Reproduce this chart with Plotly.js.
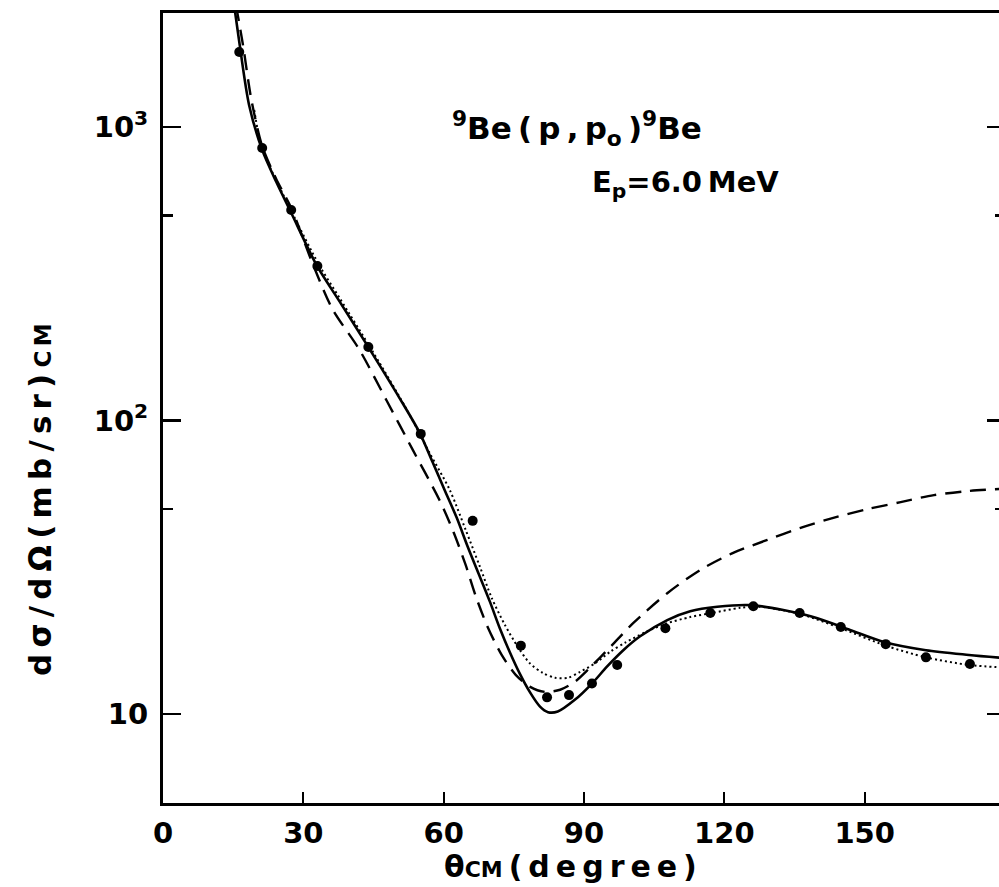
<!DOCTYPE html>
<html>
<head>
<meta charset="utf-8">
<script src="https://cdn.plot.ly/plotly-3.0.1.min.js"></script>
<style>
html, body { margin: 0; padding: 0; background: #fff; overflow: hidden; }
#chart { width: 1006px; height: 887px; }
</style>
</head>
<body>
<div id="chart"></div>
<script>
// Experimental data points: theta_cm (deg), dsigma/dOmega (mb/sr)
const dataTheta = [16.3, 21.2, 27.4, 33.0, 43.9, 55.1, 66.2, 76.5, 82.1, 86.8, 91.7, 97.1, 107.4, 117.0, 126.2, 136.1, 144.9, 154.5, 163.1, 172.5];
const dataSigma = [1800, 848, 521, 336, 178, 90, 45.5, 17.1, 11.4, 11.6, 12.7, 14.7, 19.6, 22.1, 23.3, 22.1, 19.8, 17.3, 15.6, 14.8];

// Solid curve
const solidTheta = [15.2, 16.3, 18.4, 21.2, 24.2, 27.4, 32.8, 37.7, 43.5, 50.6, 54.9, 57.6, 60.2, 62.8, 65.1, 67.5, 69.9, 72.0, 74.1, 76.3, 78.4, 80.6, 82.3, 84.4, 88.1, 91.7, 94.9, 98.4, 102.0, 107.8, 112.7, 118.5, 125.6, 132.6, 139.9, 147.0, 154.1, 163.1, 172.3, 180];
const solidSigma = [2600, 1950, 1188, 835, 650, 510, 339, 255, 182, 119, 90.6, 72.3, 58.0, 46.6, 37.3, 30.0, 24.1, 19.6, 16.3, 13.7, 11.9, 10.6, 10.15, 10.2, 11.2, 12.7, 14.5, 16.5, 18.4, 20.9, 22.4, 23.2, 23.5, 22.6, 21.2, 19.3, 17.6, 16.5, 15.9, 15.5];

// Long-dashed curve
const dashTheta = [15.6, 17.1, 18.9, 21.2, 24.2, 27.4, 31.9, 36.2, 42.0, 47.8, 53.4, 59.1, 62.1, 64.7, 66.9, 69.4, 72.4, 75.4, 78.4, 81.6, 84.9, 88.1, 91.3, 95.6, 100.5, 107.8, 114.9, 121.9, 129.2, 136.3, 143.3, 150.6, 157.7, 164.8, 172.1, 180];
const dashSigma = [2600, 1900, 1236, 860, 665, 530, 345, 240, 174, 117, 79.4, 53.6, 41.7, 32.2, 25.1, 19.8, 15.9, 13.6, 12.4, 11.9, 12.1, 12.9, 14.4, 16.9, 20.4, 25.8, 31.0, 35.4, 39.2, 43.1, 46.6, 49.9, 52.7, 55.7, 57.5, 58.6];

// Dotted curve
const dotTheta = [19.5, 21.2, 27.4, 33.4, 37.7, 44.8, 52.1, 57.0, 61.3, 64.7, 67.7, 70.3, 73.1, 75.9, 78.4, 81.2, 83.8, 86.6, 89.1, 92.4, 95.6, 98.8, 103.1, 107.4, 112.7, 117.4, 123.4, 127.7, 136.3, 144.9, 154.5, 163.1, 172.3, 180];
const dotSigma = [1142, 845, 518, 338, 262, 172, 109, 77.5, 58.0, 42.4, 31.9, 24.8, 20.1, 16.9, 14.9, 13.8, 13.3, 13.3, 13.9, 14.9, 16.3, 17.5, 19.0, 20.3, 21.4, 22.1, 23.0, 23.2, 21.9, 19.6, 17.1, 15.6, 14.7, 14.4];

const xTickVals = [0, 30, 60, 90, 120, 150];
const xTickText = ['0', '30', '60', '90', '120', '150'];
const yTickVals = [10, 100, 1000];
const yTickText = ['10', '10<sup>2</sup>', '10<sup>3</sup>'];
const yMinorVals = [50, 500];

const FONT = '"DejaVu Sans", Lato, sans-serif';
const SP = '\u2009';

const traces = [
  { x: solidTheta, y: solidSigma, mode: 'lines', line: { color: '#000', width: 2.6, shape: 'spline', smoothing: 0.8 }, name: 'solid', hoverinfo: 'skip' },
  { x: dashTheta, y: dashSigma, mode: 'lines', line: { color: '#000', width: 2.4, dash: '16px,9px', shape: 'spline', smoothing: 0.8 }, name: 'dashed', hoverinfo: 'skip' },
  { x: dotTheta, y: dotSigma, mode: 'lines', line: { color: '#000', width: 2, dash: '2px,3px', shape: 'spline', smoothing: 0.8 }, name: 'dotted', hoverinfo: 'skip' },
  { x: dataTheta, y: dataSigma, mode: 'markers', marker: { color: '#000', size: 10 }, name: 'data' }
];

const yTitle = ['d', 'σ', '/', 'd', 'Ω', '(', 'm', 'b', '/', 's', 'r', ')'].join(SP) + SP + '<span style="font-size:23px">C' + SP + 'M</span>';
const xTitle = 'θ<span style="font-size:22px">CM</span>' + SP + ['(', 'd', 'e', 'g', 'r', 'e', 'e', ')'].join(SP);

// pixel helpers for annotation placement (plot area: x 163..1005, y 13..803)
const px = v => (v - 163) / 842;
const py = v => (803 - v) / 790;

const layout = {
  width: 1006, height: 887,
  margin: { l: 163, r: 1, t: 13, b: 84 },
  paper_bgcolor: '#fff', plot_bgcolor: '#fff',
  showlegend: false,
  font: { family: FONT, color: '#000', size: 30, weight: 700 },
  xaxis: {
    range: [0, 180],
    tickmode: 'array', tickvals: xTickVals, ticktext: xTickText,
    ticks: 'inside', ticklen: 11, tickwidth: 2, tickcolor: '#000',
    showline: true, linewidth: 3, linecolor: '#000', mirror: true,
    showgrid: false, zeroline: false,
    tickfont: { family: FONT, size: 29, weight: 700 },
    ticklabelstandoff: 2,
    automargin: false
  },
  yaxis: {
    type: 'log',
    range: [0.697, 3.388],
    tickmode: 'array', tickvals: yTickVals, ticktext: yTickText,
    ticks: 'inside', ticklen: 18, tickwidth: 2.5, tickcolor: '#000',
    minor: { tickvals: yMinorVals, ticks: 'inside', ticklen: 10, tickwidth: 2.5, tickcolor: '#000', showgrid: false },
    showline: true, linewidth: 3, linecolor: '#000', mirror: 'ticks',
    showgrid: false, zeroline: false,
    tickfont: { family: FONT, size: 29, weight: 700 },
    ticklabelstandoff: 6,
    automargin: false
  },
  annotations: [
    { xref: 'paper', yref: 'paper', x: px(570), y: py(866), xanchor: 'center', yanchor: 'middle', showarrow: false,
      text: xTitle, font: { family: FONT, size: 30, weight: 700 } },
    { xref: 'paper', yref: 'paper', x: px(40), y: py(500), xanchor: 'center', yanchor: 'middle', showarrow: false, textangle: -90,
      text: yTitle, font: { family: FONT, size: 31, weight: 700 } },
    { xref: 'paper', yref: 'paper', x: px(450), y: py(128), xanchor: 'left', yanchor: 'middle', showarrow: false,
      text: '<sup>9</sup>Be' + SP + '(' + SP + 'p' + SP + ',' + SP + 'p<sub>o</sub>' + SP + ')<sup>9</sup>Be', font: { family: FONT, size: 31, weight: 700 } },
    { xref: 'paper', yref: 'paper', x: px(590), y: py(184), xanchor: 'left', yanchor: 'middle', showarrow: false,
      text: 'E<sub>p</sub>=6.0' + SP + 'MeV', font: { family: FONT, size: 29, weight: 700 } }
  ]
};

Plotly.newPlot('chart', traces, layout, { staticPlot: true, displayModeBar: false });
</script>
</body>
</html>
